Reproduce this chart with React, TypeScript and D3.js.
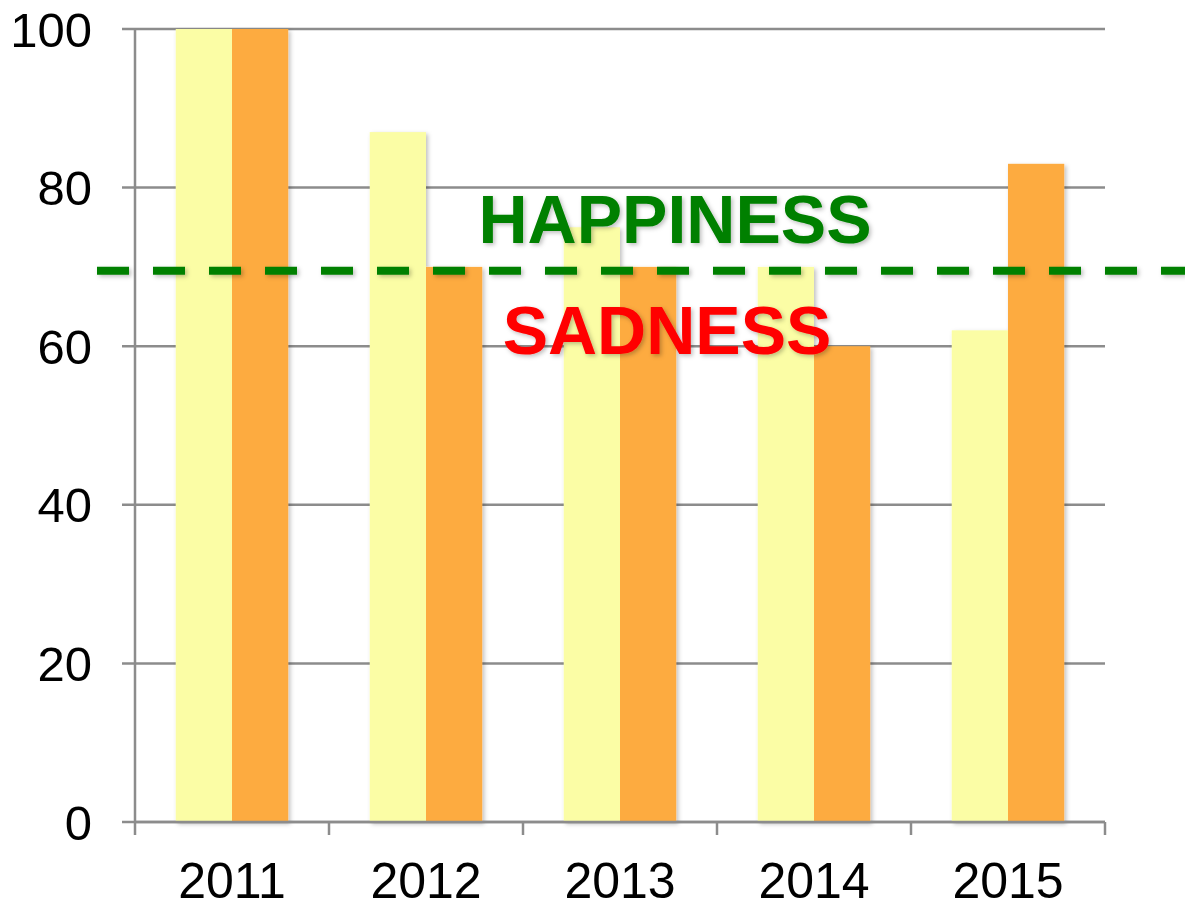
import * as d3 from "d3";

const years = ["2011", "2012", "2013", "2014", "2015"];
const seriesA = [100, 87, 75, 70, 62]; // pale yellow
const seriesB = [100, 70, 70, 60, 83]; // orange
const yTicks = [0, 20, 40, 60, 80, 100];
const threshold = 69.5;
const labelAbove = "HAPPINESS";
const labelBelow = "SADNESS";

const W = 1185;
const H = 905;
const left = 135;
const right = 1105;
const top = 29;
const bottom = 822;

const x = d3.scaleBand().domain(years).range([left, right]).paddingInner(0.42).paddingOuter(0.21);
const x2 = d3.scaleBand().domain(["a", "b"]).range([0, x.bandwidth()]);
const y = d3.scaleLinear().domain([0, 100]).range([bottom, top]);
const step = x.step();

const font = "'Liberation Sans', Arial, sans-serif";

function App() {
  return (
    <svg width={W} height={H} style={{ position: "absolute", left: 0, top: 0 }} fontFamily={font}>
      <defs>
        <filter id="shadow" filterUnits="userSpaceOnUse" x={0} y={0} width={W} height={H}>
          <feDropShadow dx="2" dy="2" stdDeviation="2" floodColor="#000" floodOpacity="0.25" />
        </filter>
      </defs>
      {/* grid */}
      {yTicks.map((t) => (
        <line key={t} x1={left - 13} x2={right} y1={y(t)} y2={y(t)} stroke="#8c8c8c" strokeWidth={2.5} />
      ))}
      <line x1={left} x2={left} y1={top} y2={bottom + 13} stroke="#8c8c8c" strokeWidth={2.5} />
      {years.map((yr, i) => (
        <line key={yr} x1={left + (i + 1) * step} x2={left + (i + 1) * step} y1={bottom} y2={bottom + 13} stroke="#8c8c8c" strokeWidth={2.5} />
      ))}
      {/* bars */}
      <g filter="url(#shadow)">
        {years.map((yr, i) => (
          <g key={yr} transform={`translate(${x(yr)},0)`}>
            <rect x={x2("a")} width={x2.bandwidth()} y={y(seriesA[i])} height={bottom - y(seriesA[i])} fill="#fbfda5" />
            <rect x={x2("b")} width={x2.bandwidth()} y={y(seriesB[i])} height={bottom - y(seriesB[i])} fill="#fdab41" />
          </g>
        ))}
      </g>
      <line x1={left} x2={right} y1={bottom} y2={bottom} stroke="#8c8c8c" strokeWidth={2.5} />
      {/* y labels */}
      {yTicks.map((t) => (
        <text key={t} x={92} y={y(t)} dy="0.36em" textAnchor="end" fontSize={49} fill="#000">
          {t}
        </text>
      ))}
      {years.map((yr) => (
        <text key={yr} x={(x(yr) as number) + x.bandwidth() / 2} y={898} textAnchor="middle" fontSize={50} fill="#000">
          {yr}
        </text>
      ))}
      {/* threshold */}
      <line
        x1={97}
        x2={W}
        y1={y(threshold)}
        y2={y(threshold)}
        stroke="#008000"
        strokeWidth={8}
        strokeDasharray="32 24"
        filter="url(#shadow)"
      />
      <text x={675} y={243} textAnchor="middle" fontSize={68} fontWeight="bold" fill="#008000" filter="url(#shadow)">
        {labelAbove}
      </text>
      <text x={667} y={354} textAnchor="middle" fontSize={68} fontWeight="bold" fill="#ff0000" filter="url(#shadow)">
        {labelBelow}
      </text>
    </svg>
  );
}

export default App;
